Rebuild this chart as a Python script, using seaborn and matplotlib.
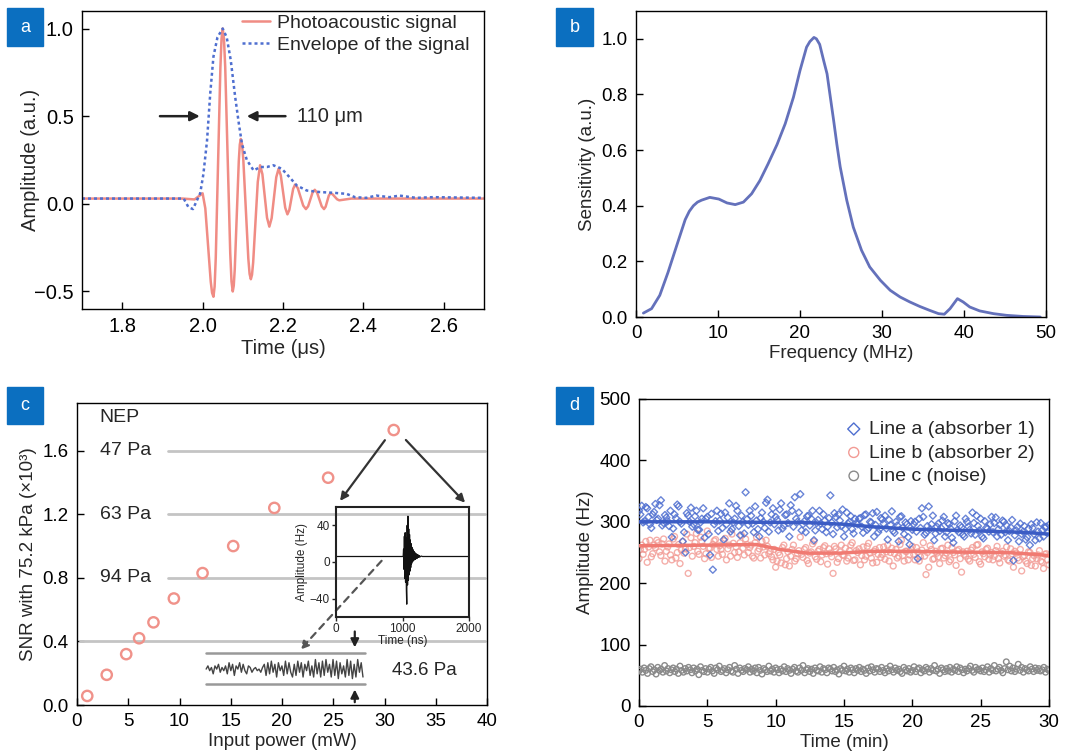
import numpy as np
import pandas as pd
import matplotlib
matplotlib.use("Agg")
import matplotlib.pyplot as plt
from matplotlib.patches import Rectangle
import seaborn as sns

# ---------------- data ----------------
# (a) photoacoustic signal and its envelope
sig_t = [1.70, 1.95, 1.98, 2.000, 2.00675, 2.0135, 2.02025, 2.0236, 2.027, 2.0299, 2.03275,
         2.0385, 2.04425, 2.0471, 2.050, 2.0531, 2.05625, 2.0625, 2.06875, 2.0719, 2.075,
         2.0775, 2.080, 2.085, 2.090, 2.0925, 2.095, 2.0981, 2.10125, 2.1075, 2.11375, 2.1169,
         2.120, 2.1229, 2.12575, 2.1315, 2.13725, 2.143, 2.14875, 2.1545, 2.16025, 2.166,
         2.17175, 2.1775, 2.18325, 2.189, 2.1945, 2.200, 2.2055, 2.211, 2.21575, 2.2205,
         2.22525, 2.230, 2.23675, 2.2435, 2.25025, 2.257, 2.2625, 2.268, 2.2735, 2.279,
         2.28475, 2.2905, 2.29625, 2.302, 2.306, 2.310, 2.314, 2.318, 2.3235, 2.329, 2.3345,
         2.340, 2.37, 2.70]
sig_amp = [0.03, 0.03, 0.025, 0.06, -0.026, -0.235, -0.444, -0.508, -0.53, -0.472, -0.307,
           0.235, 0.777, 0.942, 1.0, 0.943, 0.781, 0.25, -0.281, -0.443, -0.50,
           -0.467, -0.373, -0.065, 0.243, 0.337, 0.37, 0.34, 0.253, -0.03, -0.313, -0.40,
           -0.43, -0.405, -0.335, -0.105, 0.125, 0.22, 0.169, 0.045, -0.079, -0.13,
           -0.082, 0.035, 0.152, 0.20, 0.162, 0.07, -0.022, -0.06, -0.035, 0.025,
           0.085, 0.11, 0.09, 0.04, -0.01, -0.03, -0.014, 0.025, 0.064, 0.08,
           0.064, 0.025, -0.014, -0.03, -0.017, 0.015, 0.047, 0.06, 0.054, 0.04, 0.026,
           0.02, 0.03, 0.03]
env_t = [1.70, 1.953, 1.965, 1.976, 1.986, 1.994, 2.002, 2.011, 2.019, 2.027, 2.037, 2.050,
         2.060, 2.070, 2.081, 2.090, 2.098, 2.110, 2.127, 2.143, 2.160, 2.176, 2.197, 2.217,
         2.234, 2.259, 2.292, 2.325, 2.358, 2.379, 2.407, 2.432, 2.465, 2.490, 2.531, 2.573, 2.70]
env_amp = [0.03, 0.03, -0.02, -0.03, 0.02, 0.06, 0.17, 0.36, 0.63, 0.84, 0.95, 1.0,
           0.95, 0.82, 0.61, 0.46, 0.34, 0.25, 0.19, 0.21, 0.21, 0.22, 0.20, 0.15,
           0.105, 0.076, 0.067, 0.063, 0.057, 0.038, 0.034, 0.047, 0.038, 0.047, 0.034, 0.038, 0.034]

# (b) frequency response
freq = [0.9, 1.9, 2.9, 3.9, 5.0, 6.0, 6.5, 7.0, 7.5, 8.0, 9.0, 10.1, 11.1, 12.1, 13.1, 14.1,
        15.1, 16.1, 17.2, 18.2, 19.2, 20.0, 20.8, 21.2, 21.7, 22.0, 22.4, 22.9, 23.3, 23.7,
        24.1, 24.5, 24.9, 25.3, 25.7, 26.5, 27.5, 28.5, 29.8, 31.0, 32.2, 33.4, 34.6, 35.8,
        36.9, 37.6, 38.3, 39.2, 39.9, 40.7, 41.9, 43.6, 45.2, 47.2, 49.3]
sens = [0.014, 0.03, 0.078, 0.16, 0.26, 0.35, 0.38, 0.40, 0.413, 0.42, 0.43, 0.424, 0.41,
        0.404, 0.413, 0.443, 0.49, 0.55, 0.62, 0.695, 0.79, 0.886, 0.97, 0.99, 1.005, 1.0,
        0.98, 0.92, 0.874, 0.79, 0.707, 0.62, 0.54, 0.48, 0.42, 0.323, 0.24, 0.18, 0.132,
        0.096, 0.072, 0.054, 0.038, 0.024, 0.012, 0.01, 0.03, 0.066, 0.054, 0.036, 0.022,
        0.012, 0.006, 0.002, 0.0]

# (c) SNR vs input power
power = [1.0, 2.9, 4.8, 6.06, 7.46, 9.45, 12.25, 15.24, 19.25, 24.5, 30.9]
snr = [0.057, 0.19, 0.32, 0.42, 0.52, 0.67, 0.83, 1.0, 1.24, 1.43, 1.73]
nep_levels = [1.6, 1.2, 0.8]
nep_labels = ["47 Pa", "63 Pa", "94 Pa"]
noise_level = 0.4
noise_trace = [0, 2, -1, 1, -3, 2, 0, 3, -2, 1, -1, 2, -3, 4, -1, 3, -4, 2, 0, 4,
               -2, 3, -1, -3, 2, 1, -2, 0, 1, -1, 0, -2, 1, 3, -4, 4, -3, 5, -2, 3,
               -5, 4, -1, 2, -4, 5, -3, 4, -2, -5, 3, -4, 5, -2, 4, -5, 3, -1, 5, -4,
               2, -5, 6, -3, 4, -5, 5, -4, 6, -2, 3, -5, 6, -4, 5, -6, 4, -3, 2, -5,
               6, -4, 5, -6, 3, -5, 6, -2, 4, -5]
inset_t = [0, 1010, 1016, 1022, 1028, 1034, 1040, 1046, 1052, 1058, 1064, 1070, 1076, 1082,
           1088, 1094, 1100, 1106, 1112, 1118, 1124, 1130, 1136, 1142, 1148, 1154, 1160,
           1166, 1172, 1178, 1184, 1190, 1196, 1202, 1208, 1214, 1220, 1226, 1232, 1238,
           1244, 1250, 1262, 1280, 1300, 2000]
inset_amp = [6, 6, 14, -8, 28, -18, 32, -22, 26, -30, -46, 40, -25, 50, -20, 36, -14, 30,
             -10, 24, -6, 20, -2, 16, 0, 14, 1, 12, 2, 11, 3, 10, 3, 9, 4, 8.5, 4, 8, 5,
             7.5, 5, 7, 5.5, 6.5, 6, 6]

# (d) long-term stability (two interleaved sampling passes per line)
line_a = [318, 326, 301, 322, 296, 312, 329, 305, 335, 298,
          307, 293, 275, 312, 328, 300, 268, 250, 310, 323,
          296, 318, 287, 305, 274, 308, 246, 222, 301, 285,
          313, 271, 296, 330, 288, 305, 318, 278, 300, 348,
          295, 310, 283, 302, 276, 315, 290, 336, 299, 322,
          308, 286, 330, 294, 312, 276, 318, 340, 300, 345,
          296, 283, 310, 305, 270, 298, 318, 288, 302, 292,
          343, 280, 308, 312, 293, 276, 315, 300, 288, 305,
          296, 306, 282, 312, 290, 299, 276, 316, 288, 304,
          310, 271, 295, 285, 300, 268, 309, 280, 296, 263,
          287, 300, 240, 290, 308, 282, 325, 296, 270, 292,
          285, 302, 276, 298, 289, 266, 310, 283, 291, 276,
          300, 287, 315, 279, 293, 305, 273, 290, 284, 308,
          298, 276, 295, 302, 283, 270, 291, 237, 286, 268,
          280, 293, 275, 262, 290, 270, 284, 298, 276, 292, 295]
line_a2 = [312, 299, 324, 308, 290, 316, 303, 327, 294, 311,
           301, 318, 289, 306, 325, 297, 283, 314, 300, 292,
           309, 287, 299, 322, 305, 280, 313, 296, 318, 302,
           290, 315, 307, 284, 299, 326, 293, 310, 281, 304,
           318, 297, 325, 288, 306, 300, 331, 284, 312, 296,
           303, 320, 289, 311, 298, 327, 292, 305, 315, 286,
           301, 309, 294, 318, 286, 303, 297, 312, 283, 306,
           299, 314, 291, 302, 320, 288, 297, 309, 281, 298,
           305, 292, 311, 287, 300, 314, 295, 283, 306, 297,
           289, 303, 317, 282, 294, 308, 290, 299, 275, 301,
           296, 284, 305, 322, 279, 293, 288, 310, 281, 297,
           290, 308, 283, 296, 274, 301, 287, 294, 279, 305,
           292, 281, 298, 310, 286, 276, 301, 289, 296, 283,
           307, 288, 279, 300, 294, 285, 303, 278, 292, 297,
           284, 271, 289, 296, 280, 299, 273, 286, 291, 282]
line_b = [240, 262, 255, 234, 270, 248, 258, 266, 245, 272,
          252, 264, 238, 276, 250, 232, 268, 256, 216, 274,
          260, 281, 247, 268, 240, 285, 257, 263, 271, 244,
          255, 269, 238, 262, 280, 250, 242, 266, 257, 272,
          250, 262, 241, 275, 256, 268, 246, 260, 252, 238,
          226, 250, 233, 262, 240, 228, 255, 236, 248, 275,
          242, 258, 232, 251, 268, 239, 255, 246, 261, 231,
          249, 216, 256, 240, 262, 245, 236, 253, 266, 238,
          250, 230, 259, 244, 265, 241, 252, 234, 258, 247,
          239, 262, 250, 228, 255, 244, 270, 236, 252, 246,
          260, 238, 251, 243, 266, 214, 226, 255, 240, 249,
          232, 257, 245, 262, 238, 250, 229, 255, 218, 247,
          252, 236, 258, 242, 263, 231, 248, 255, 239, 250,
          244, 260, 233, 252, 246, 238, 256, 226, 249, 237,
          220, 245, 232, 250, 240, 228, 246, 236, 224, 248, 230]
line_b2 = [255, 247, 268, 259, 243, 262, 270, 251, 264, 236,
           259, 246, 272, 241, 263, 254, 249, 280, 258, 244,
           266, 252, 275, 260, 248, 257, 242, 269, 255, 261,
           247, 273, 256, 244, 265, 259, 251, 278, 246, 263,
           258, 244, 266, 252, 241, 259, 270, 248, 243, 255,
           236, 246, 258, 230, 251, 244, 262, 240, 253, 247,
           255, 237, 249, 264, 243, 252, 235, 258, 248, 256,
           243, 260, 234, 251, 246, 257, 241, 262, 237, 253,
           256, 245, 238, 260, 249, 233, 255, 247, 242, 259,
           251, 236, 257, 248, 241, 263, 245, 252, 238, 255,
           247, 258, 236, 254, 244, 250, 261, 239, 252, 243,
           256, 241, 249, 235, 258, 246, 253, 240, 251, 244,
           239, 254, 247, 262, 235, 251, 243, 257, 246, 238,
           253, 240, 249, 244, 259, 236, 248, 252, 241, 255,
           243, 236, 251, 229, 245, 240, 253, 234, 247, 238]
line_c = [57, 60, 55, 62, 58, 53, 61, 64, 56, 59, 52, 63, 58, 60, 55, 66, 57, 61, 54, 59,
          62, 56, 60, 53, 65, 58, 55, 61, 57, 63, 59, 54, 62, 57, 60, 51, 64, 58, 56, 61,
          55, 60, 63, 57, 53, 62, 59, 65, 56, 58, 61, 54, 59, 63, 57, 55, 66, 60, 53, 62,
          58, 56, 61, 59, 64, 55, 60, 57, 62, 54, 63, 58, 52, 61, 59, 56, 65, 57, 60, 55,
          62, 59, 54, 60, 57, 64, 56, 61, 58, 53, 60, 63, 57, 55, 62, 58, 66, 54, 59, 61,
          56, 60, 53, 62, 58, 57, 64, 55, 61, 59, 54, 62, 60, 57, 63, 56, 59, 52, 61, 58,
          65, 57, 60, 55, 62, 59, 54, 61, 58, 63, 56, 60, 58, 53, 62, 57, 64, 59, 55, 61,
          60, 56, 63, 58, 54, 61, 57, 65, 59, 55, 62, 58, 60, 56, 53, 63, 59, 57, 61, 55,
          58, 64, 56, 60, 62, 54, 59, 57, 63, 60, 55, 61, 58, 66, 57, 60, 53, 62, 59, 56,
          61, 57, 63, 55, 60, 58, 64, 56, 62, 59, 54, 60, 57, 61, 65, 58, 55, 63, 59, 60,
          57, 62, 56, 59, 64, 55, 61, 58, 66, 57, 60, 63, 58, 54, 61, 72, 59, 65, 57, 62,
          56, 60, 68, 58, 63, 55, 61, 59, 57, 64, 60, 56, 62, 58, 61, 57, 59, 63, 55, 60, 58]
trend_t = [0, 5, 10, 12, 15, 17, 20, 25, 28, 30]
trend_a = [300, 300, 299, 299, 296, 292, 288, 285, 283, 280]
trend_bt = [0, 5, 8.6, 10.3, 12.3, 14.7, 17.1, 19.6, 22, 26.9, 29, 30]
trend_b = [261, 262, 263, 255, 249, 249, 252, 252, 251, 250, 247, 245]

# ---------------- style ----------------
sns.set_style("ticks", {"xtick.direction": "in", "ytick.direction": "in"})
plt.rcParams["font.family"] = ["Liberation Sans", "DejaVu Sans"]

W, H = 1083, 756
fig = plt.figure(figsize=(W / 100, H / 100), dpi=100)


def px_axes(l, t, r, b):
    return fig.add_axes([l / W, 1 - b / H, (r - l) / W, (b - t) / H])


def style(ax, fs):
    for s in ax.spines.values():
        s.set_linewidth(1.0)
        s.set_color("black")
        s.set_visible(True)
    ax.tick_params(direction="in", length=5, width=1, labelsize=fs, pad=6,
                   top=False, right=False, colors="black")


def tag(x0, y0, x1, y1, s):
    fig.patches.append(Rectangle((x0 / W, 1 - y1 / H), (x1 - x0) / W, (y1 - y0) / H,
                                 transform=fig.transFigure, color="#0b6fc0", zorder=10))
    fig.text((x0 + x1) / 2 / W, 1 - (y0 + y1) / 2 / H, s, color="white", ha="center",
             va="center", fontsize=13, zorder=11)


RED = "#f08c84"
BLUE = "#4f6fd0"

# ---------------- (a) ----------------
axa = px_axes(82, 11, 484, 309)
sns.lineplot(x=sig_t, y=sig_amp, ax=axa, sort=False, estimator=None, color=RED, lw=1.8,
             label="Photoacoustic signal")
sns.lineplot(x=env_t, y=env_amp, ax=axa, sort=False, estimator=None, color=BLUE, lw=1.8,
             linestyle=(0, (1.2, 1.2)), label="Envelope of the signal")
axa.set_xlim(1.7, 2.7)
axa.set_ylim(-0.6, 1.1)
axa.set_xticks([1.8, 2.0, 2.2, 2.4, 2.6])
axa.set_yticks([-0.5, 0.0, 0.5, 1.0])
style(axa, 14.5)
axa.set_xlabel("Time (μs)", fontsize=14.5, labelpad=2)
axa.set_ylabel("Amplitude (a.u.)", fontsize=14.5)
axa.yaxis.set_label_coords(-0.105, 0.5)
axa.legend(loc="upper right", bbox_to_anchor=(0.965, 0.99), frameon=False, fontsize=14,
           handlelength=1.4, handletextpad=0.4, labelspacing=0.25, borderpad=0,
           borderaxespad=0)
axa.annotate("", xy=(2.0, 0.5), xytext=(1.887, 0.5),
             arrowprops=dict(arrowstyle="-|>", color="#222222", lw=1.8, mutation_scale=14))
axa.annotate("", xy=(2.103, 0.5), xytext=(2.213, 0.5),
             arrowprops=dict(arrowstyle="-|>", color="#222222", lw=1.8, mutation_scale=14))
axa.text(2.234, 0.5, "110 μm", fontsize=14.5, ha="left", va="center")

# ---------------- (b) ----------------
axb = px_axes(636, 11, 1046, 317)
sns.lineplot(x=freq, y=sens, ax=axb, sort=False, estimator=None, color="#6471bb", lw=2)
axb.set_xlim(0, 50)
axb.set_ylim(0, 1.1)
axb.set_xticks([0, 10, 20, 30, 40, 50])
axb.set_yticks([0.0, 0.2, 0.4, 0.6, 0.8, 1.0])
style(axb, 13.5)
axb.set_xlabel("Frequency (MHz)", fontsize=13.5, labelpad=2)
axb.set_ylabel("Sensitivity (a.u.)", fontsize=13.5, labelpad=4)

# ---------------- (c) ----------------
axc = px_axes(77, 403, 487, 705)
GRAYL = "#c4c4c4"
for lv, lb in zip(nep_levels, nep_labels):
    axc.plot([8.9, 39.8], [lv, lv], color=GRAYL, lw=2, zorder=1)
    axc.text(2.2, lv, lb, fontsize=14, ha="left", va="center")
axc.plot([0.3, 39.8], [noise_level, noise_level], color=GRAYL, lw=2, zorder=1)
axc.text(2.2, 1.81, "NEP", fontsize=14, ha="left", va="center")
sns.scatterplot(x=power, y=snr, ax=axc, marker="o", s=55, facecolors="none",
                edgecolor="#f0928a", linewidth=1.7, zorder=3)
# noise trace
nx = np.linspace(12.6, 27.9, len(noise_trace))
ny = 0.226 + np.array(noise_trace) * 0.01
sns.lineplot(x=nx, y=ny, ax=axc, sort=False, estimator=None, color="#444444", lw=1.0)
axc.plot([12.6, 28.1], [0.33, 0.33], color="#999999", lw=1.8)
axc.plot([12.6, 28.1], [0.13, 0.13], color="#999999", lw=1.8)
axc.text(30.7, 0.22, "43.6 Pa", fontsize=13.5, ha="left", va="center")
arr = dict(arrowstyle="-|>", color="#222222", lw=1.6, mutation_scale=12)
axc.annotate("", xy=(27.1, 0.345), xytext=(27.1, 0.48), arrowprops=arr)
axc.annotate("", xy=(27.1, 0.115), xytext=(27.1, 0.0), arrowprops=arr)
arr2 = dict(arrowstyle="-|>", color="#333333", lw=1.6, mutation_scale=12)
axc.annotate("", xy=(25.5, 1.27), xytext=(30.2, 1.68), arrowprops=arr2)
axc.annotate("", xy=(38.05, 1.26), xytext=(31.9, 1.68), arrowprops=arr2)
axc.annotate("", xy=(21.6, 0.335), xytext=(29.9, 0.92),
             arrowprops=dict(arrowstyle="-|>", color="#555555", lw=1.6, mutation_scale=12,
                             linestyle=(0, (3, 2.5))))
axc.set_xlim(0, 40)
axc.set_ylim(0, 1.9)
axc.set_xticks(range(0, 41, 5))
axc.set_yticks([0.0, 0.4, 0.8, 1.2, 1.6])
style(axc, 13.5)
axc.set_xlabel("Input power (mW)", fontsize=13.5, labelpad=2)
axc.set_ylabel("SNR with 75.2 kPa (×10³)", fontsize=13.5, labelpad=4)

# inset
axi = px_axes(336, 507, 469, 617)
axi.set_facecolor("none")
sns.lineplot(x=inset_t, y=inset_amp, ax=axi, sort=False, estimator=None, color="#111111",
             lw=0.9)
axi.set_xlim(0, 2000)
axi.set_ylim(-60, 60)
axi.set_xticks([0, 1000, 2000])
axi.set_yticks([-40, 0, 40])
for s in axi.spines.values():
    s.set_linewidth(1.5)
    s.set_color("#222222")
    s.set_visible(True)
axi.tick_params(direction="out", length=3, width=1, labelsize=8.5, pad=1.5,
                top=False, right=False)
axi.set_xlabel("Time (ns)", fontsize=8.5, labelpad=0)
axi.set_ylabel("Amplitude (Hz)", fontsize=8.5, labelpad=1)

# ---------------- (d) ----------------
axd = px_axes(639, 399, 1049, 706)
ta = np.concatenate([np.linspace(0, 30, len(line_a)), 0.1 + 0.2 * np.arange(len(line_a2))])
tb = np.concatenate([np.linspace(0, 30, len(line_b)), 0.1 + 0.2 * np.arange(len(line_b2))])
tc = np.linspace(0, 30, len(line_c))
va = np.concatenate([line_a, line_a2])
vb = np.concatenate([line_b, line_b2])
sns.scatterplot(x=tb, y=vb, ax=axd, marker="o", s=18, facecolors="none",
                edgecolor="#f29a94", linewidth=1.0, alpha=0.8, label="Line b (absorber 2)",
                zorder=2)
sns.scatterplot(x=ta, y=va, ax=axd, marker="D", s=13, facecolors="none",
                edgecolor=BLUE, linewidth=1.0, alpha=0.85, label="Line a (absorber 1)",
                zorder=3)
sns.scatterplot(x=tc, y=line_c, ax=axd, marker="o", s=16, facecolors="none",
                edgecolor="#8a8a8a", linewidth=1.0, label="Line c (noise)", zorder=3)
sns.lineplot(x=trend_t, y=trend_a, ax=axd, sort=False, estimator=None, color="#3b5cc4",
             lw=2.5, zorder=4)
sns.lineplot(x=trend_bt, y=trend_b, ax=axd, sort=False, estimator=None, color="#f07a72",
             lw=2.5, zorder=4)
axd.set_xlim(0, 30)
axd.set_ylim(0, 500)
axd.set_xticks(range(0, 31, 5))
axd.set_yticks(range(0, 501, 100))
style(axd, 13.5)
axd.set_xlabel("Time (min)", fontsize=13.5, labelpad=2)
axd.set_ylabel("Amplitude (Hz)", fontsize=13.5, labelpad=4)
h, l = axd.get_legend_handles_labels()
order = [l.index("Line a (absorber 1)"), l.index("Line b (absorber 2)"), l.index("Line c (noise)")]
leg = axd.legend([h[i] for i in order], [l[i] for i in order], loc="upper right",
                 bbox_to_anchor=(0.966, 0.93), frameon=False, fontsize=14, markerscale=1.7,
                 handlelength=1.0, handletextpad=0.3, labelspacing=0.3, borderpad=0,
                 borderaxespad=0)
for lh in leg.legend_handles:
    lh.set_alpha(1)

# panel tags
tag(7, 8, 43, 46, "a")
tag(556, 8, 593, 46, "b")
tag(7, 387, 43, 424, "c")
tag(556, 387, 593, 424, "d")

fig.savefig("out.png", dpi=100)
